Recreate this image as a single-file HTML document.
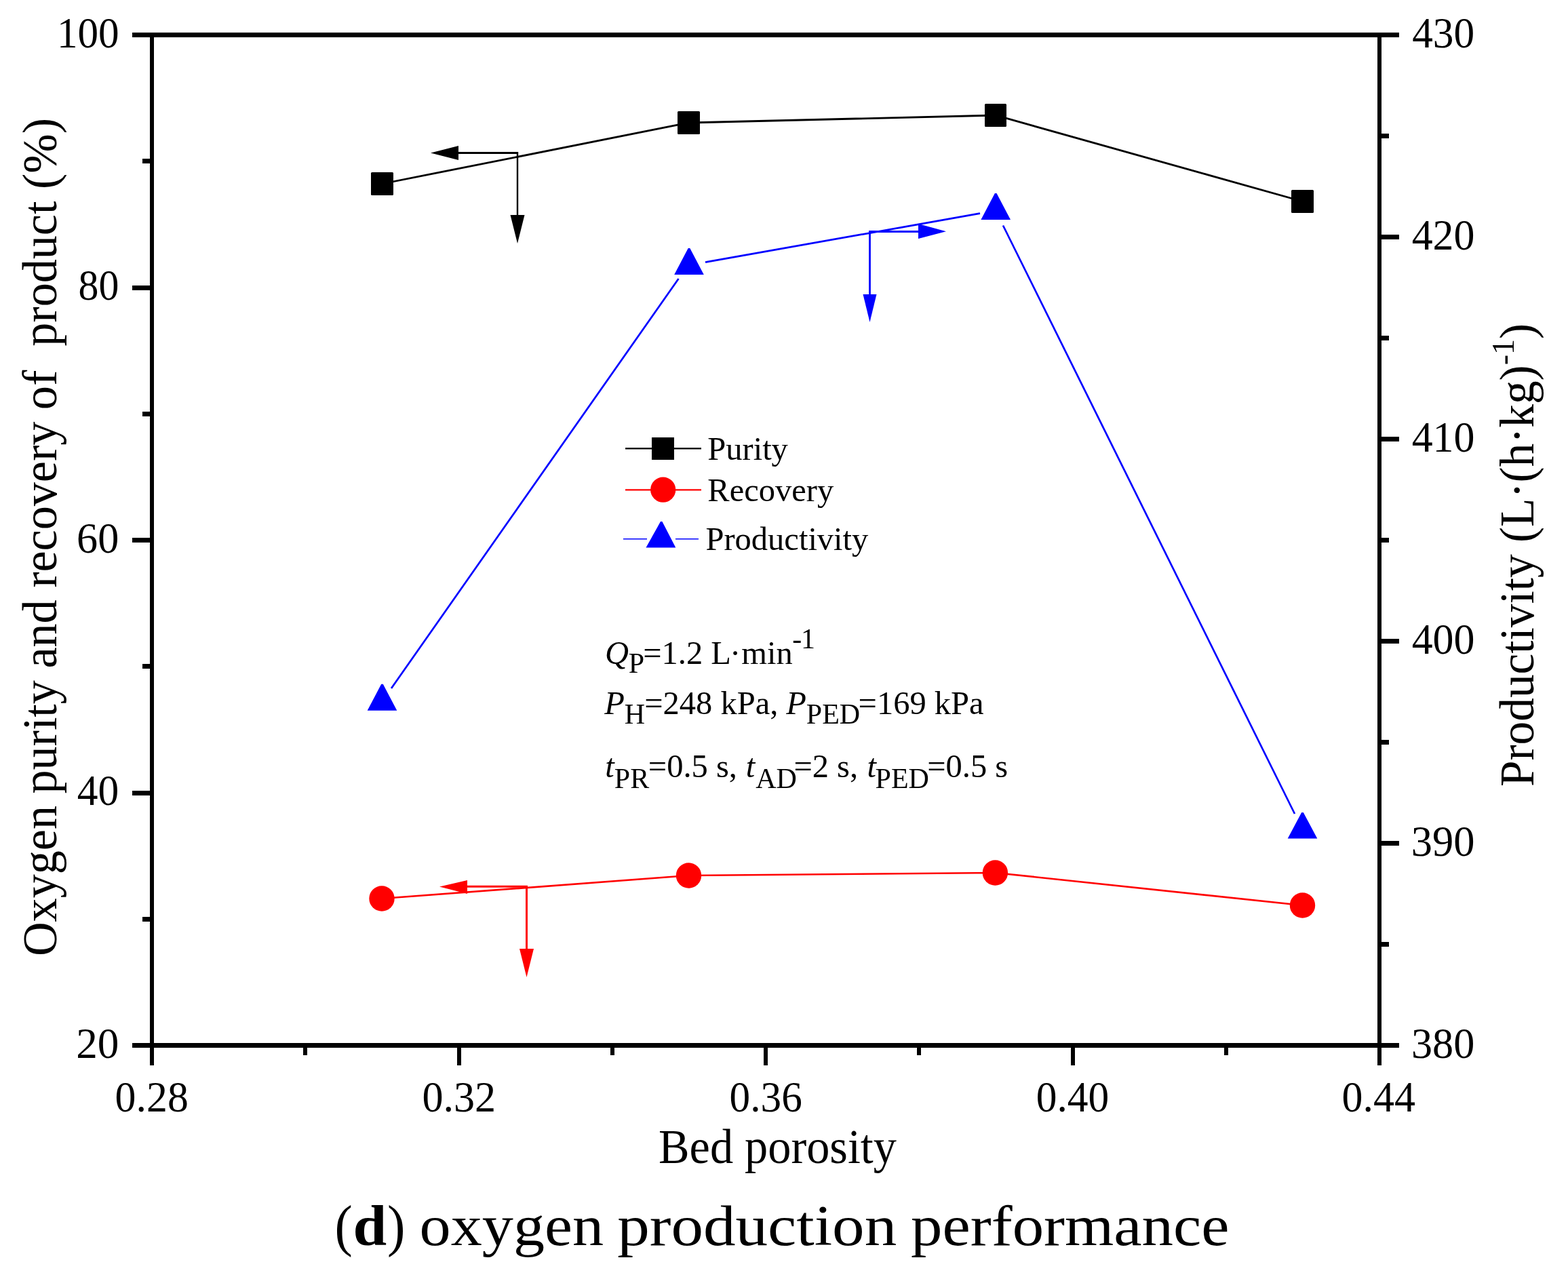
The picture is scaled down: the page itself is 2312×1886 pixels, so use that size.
<!DOCTYPE html>
<html><head><meta charset="utf-8"><title>Oxygen production performance</title>
<style>
html,body{margin:0;padding:0;background:#fff;}
svg{display:block;}
text{font-family:"Liberation Serif","Times New Roman",serif;fill:#000;}
.tl{font-size:64px;}
.it{font-style:italic;}
</style></head>
<body>
<svg width="2312" height="1886" viewBox="0 0 2312 1886">
<rect x="0" y="0" width="2312" height="1886" fill="#fff"/>
<!-- frame -->
<g fill="#000" shape-rendering="crispEdges">
<rect x="221" y="48" width="6" height="1497"/>
<rect x="2031" y="48" width="6" height="1497"/>
<rect x="195" y="48" width="1868" height="7"/>
<rect x="195" y="1538" width="1868" height="7"/>
<!-- left major ticks -->
<rect x="195" y="421" width="26" height="7"/>
<rect x="195" y="793" width="26" height="7"/>
<rect x="195" y="1166" width="26" height="7"/>
<!-- left minor ticks -->
<rect x="210" y="234" width="11" height="7"/>
<rect x="210" y="607" width="11" height="7"/>
<rect x="210" y="979" width="11" height="7"/>
<rect x="210" y="1352" width="11" height="7"/>
<!-- right major ticks -->
<rect x="2037" y="346" width="26" height="7"/>
<rect x="2037" y="644" width="26" height="7"/>
<rect x="2037" y="942" width="26" height="7"/>
<rect x="2037" y="1240" width="26" height="7"/>
<!-- right minor ticks -->
<rect x="2037" y="197" width="11" height="7"/>
<rect x="2037" y="495" width="11" height="7"/>
<rect x="2037" y="793" width="11" height="7"/>
<rect x="2037" y="1091" width="11" height="7"/>
<rect x="2037" y="1389" width="11" height="7"/>
<!-- bottom major ticks -->
<rect x="221" y="1545" width="6" height="26"/>
<rect x="674" y="1545" width="6" height="26"/>
<rect x="1126" y="1545" width="6" height="26"/>
<rect x="1579" y="1545" width="6" height="26"/>
<rect x="2031" y="1545" width="6" height="26"/>
<!-- bottom minor ticks -->
<rect x="447" y="1545" width="6" height="11"/>
<rect x="900" y="1545" width="6" height="11"/>
<rect x="1352" y="1545" width="6" height="11"/>
<rect x="1805" y="1545" width="6" height="11"/>
</g>

<!-- tick labels -->
<g class="tl">
<text x="83.9" y="69.7" textLength="91.8" lengthAdjust="spacingAndGlyphs">100</text>
<text x="115.5" y="442.2" textLength="59.8" lengthAdjust="spacingAndGlyphs">80</text>
<text x="113.1" y="814.7" textLength="62.2" lengthAdjust="spacingAndGlyphs">60</text>
<text x="113.8" y="1187.2" textLength="61.5" lengthAdjust="spacingAndGlyphs">40</text>
<text x="112.2" y="1559.7" textLength="63.2" lengthAdjust="spacingAndGlyphs">20</text>
<text x="2082.2" y="69.7" textLength="92.0" lengthAdjust="spacingAndGlyphs">430</text>
<text x="2081.7" y="367.7" textLength="92.8" lengthAdjust="spacingAndGlyphs">420</text>
<text x="2081.7" y="665.7" textLength="92.8" lengthAdjust="spacingAndGlyphs">410</text>
<text x="2081.7" y="963.7" textLength="92.8" lengthAdjust="spacingAndGlyphs">400</text>
<text x="2080.8" y="1261.7" textLength="93.7" lengthAdjust="spacingAndGlyphs">390</text>
<text x="2081.0" y="1559.7" textLength="93.3" lengthAdjust="spacingAndGlyphs">380</text>
<text x="169.6" y="1638.7" textLength="108.2" lengthAdjust="spacingAndGlyphs">0.28</text>
<text x="622.4" y="1638.7" textLength="108.8" lengthAdjust="spacingAndGlyphs">0.32</text>
<text x="1075.6" y="1638.7" textLength="107.2" lengthAdjust="spacingAndGlyphs">0.36</text>
<text x="1527.8" y="1638.7" textLength="107.5" lengthAdjust="spacingAndGlyphs">0.40</text>
<text x="1978.6" y="1638.7" textLength="108.3" lengthAdjust="spacingAndGlyphs">0.44</text>
</g>

<!-- axis titles -->
<text x="971" y="1715" font-size="72" textLength="351" lengthAdjust="spacingAndGlyphs">Bed porosity</text>
<text transform="translate(83,1410) rotate(-90)" font-size="72" xml:space="preserve" textLength="1236" lengthAdjust="spacingAndGlyphs">Oxygen purity and recovery of  product (%)</text>
<text transform="translate(2261,1160) rotate(-90)" font-size="71" textLength="683" lengthAdjust="spacingAndGlyphs">Productivity (L·(h·kg)<tspan font-size="47" dy="-29">-1</tspan><tspan dy="29">)</tspan></text>

<!-- caption -->
<g font-size="85">
<text x="493.4" y="1835.6" textLength="26.3" lengthAdjust="spacingAndGlyphs">(</text>
<text x="520.4" y="1835.6" font-weight="bold" textLength="49.7" lengthAdjust="spacingAndGlyphs">d</text>
<text x="571" y="1835.6" textLength="26.5" lengthAdjust="spacingAndGlyphs">)</text>
<text x="618.6" y="1835.6" textLength="271.6" lengthAdjust="spacingAndGlyphs">oxygen</text>
<text x="910.2" y="1835.6" textLength="412" lengthAdjust="spacingAndGlyphs">production</text>
<text x="1343.1" y="1835.6" textLength="469.4" lengthAdjust="spacingAndGlyphs">performance</text>
</g>

<!-- purity (black) -->
<polyline points="563.5,271 1015.5,181 1468,170 1920.5,297" fill="none" stroke="#000" stroke-width="2.8"/>
<g fill="#000">
<rect x="547" y="254" width="33" height="34" rx="1.5"/>
<rect x="999" y="164" width="33" height="34" rx="1.5"/>
<rect x="1452" y="153" width="32" height="34" rx="1.5"/>
<rect x="1904" y="280" width="33" height="34" rx="1.5"/>
</g>

<!-- recovery (red) -->
<polyline points="563,1325 1015.5,1291 1467.4,1287 1920.5,1335" fill="none" stroke="#f00" stroke-width="2.7"/>
<g fill="#f00">
<circle cx="563" cy="1325" r="18.7"/>
<circle cx="1015.5" cy="1291" r="18.7"/>
<circle cx="1467.4" cy="1287" r="18.7"/>
<circle cx="1920.5" cy="1335" r="18.7"/>
</g>

<!-- productivity (blue) -->
<g stroke="#00f" stroke-width="2.7" fill="none">
<line x1="577" y1="1015" x2="1000.5" y2="411"/>
<line x1="1040" y1="386.7" x2="1445" y2="314.6"/>
<line x1="1479" y1="332.5" x2="1909" y2="1200"/>
</g>
<g fill="#00f">
<polygon points="562.2,1008.8 564.8,1008.8 585.3,1047.8 541.7,1047.8"/>
<polygon points="1014.7,366.0 1017.3,366.0 1037.8,405.0 994.2,405.0"/>
<polygon points="1466.9,285.0 1469.5,285.0 1490.0,324.0 1446.4,324.0"/>
<polygon points="1919.2,1198.0 1921.8,1198.0 1942.3,1236.5 1898.7,1236.5"/>
</g>

<!-- arrows -->
<g fill="none">
<line x1="676" y1="225.5" x2="764" y2="225.5" stroke="#000" stroke-width="3"/>
<line x1="763" y1="224" x2="763" y2="318" stroke="#000" stroke-width="2.4"/>
<line x1="1354" y1="341.5" x2="1281.5" y2="341.5" stroke="#00f" stroke-width="3"/>
<line x1="1282.5" y1="340" x2="1282.5" y2="435" stroke="#00f" stroke-width="2.8"/>
<line x1="689" y1="1307.3" x2="778" y2="1307.3" stroke="#f00" stroke-width="3"/>
<line x1="776.5" y1="1306" x2="776.5" y2="1400" stroke="#f00" stroke-width="3"/>
</g>
<polygon points="635,225.5 676,215 676,236" fill="#000"/>
<polygon points="752.5,317 773.5,317 763,359" fill="#000"/>
<polygon points="1354,330 1354,352 1395,341.3" fill="#00f"/>
<polygon points="1272.5,434 1292.5,434 1282.5,475" fill="#00f"/>
<polygon points="648,1307.5 689,1298 689,1318" fill="#f00"/>
<polygon points="766,1399 787,1399 776.5,1441" fill="#f00"/>

<!-- legend -->
<line x1="922" y1="661.4" x2="1034" y2="661.4" stroke="#000" stroke-width="2.2"/>
<rect x="961" y="645" width="33" height="33" fill="#000"/>
<line x1="922" y1="722.4" x2="1034" y2="722.4" stroke="#f00" stroke-width="2.2"/>
<circle cx="977.7" cy="722.2" r="18.6" fill="#f00"/>
<line x1="919" y1="794.8" x2="954" y2="794.8" stroke="#00f" stroke-width="1.6"/>
<line x1="996" y1="794.8" x2="1030" y2="794.8" stroke="#00f" stroke-width="1.6"/>
<polygon points="974,768.9 976.4,768.9 996.3,807.6 952.5,807.6" fill="#00f"/>
<text x="1043.3" y="677.9" font-size="48.5">Purity</text>
<text x="1043.3" y="738.8" font-size="48.5">Recovery</text>
<text x="1040.5" y="810.8" font-size="48.5">Productivity</text>

<!-- annotation -->
<g font-size="48.5">
<text><tspan class="it" x="892" y="978.9">Q</tspan><tspan font-size="42" x="926.8" y="991.6">P</tspan><tspan x="948.2" y="978.9">=1.2 L</tspan><tspan x="1075.9" y="978.9">·</tspan><tspan x="1093.2" y="978.9">min</tspan><tspan font-size="42" x="1168.2" y="956.4">-</tspan><tspan font-size="42" x="1180.9" y="956.4">1</tspan></text>
<text><tspan class="it" x="891.3" y="1052.8">P</tspan><tspan font-size="42" x="920.8" y="1067">H</tspan><tspan x="950.2" y="1052.8">=248 kPa, </tspan><tspan class="it" x="1159.3" y="1052.8">P</tspan><tspan font-size="42" x="1188.8" y="1067">PED</tspan><tspan x="1265.6" y="1052.8">=169 kPa</tspan></text>
<text><tspan class="it" x="892.2" y="1145.8">t</tspan><tspan font-size="42" x="905.8" y="1162">PR</tspan><tspan x="955.8" y="1145.8">=0.5 s, </tspan><tspan class="it" x="1099.7" y="1145.8">t</tspan><tspan font-size="42" x="1114.2" y="1162">AD</tspan><tspan x="1170.4" y="1145.8">=2 s, </tspan><tspan class="it" x="1278.5" y="1145.8">t</tspan><tspan font-size="42" x="1290.6" y="1162">PED</tspan><tspan x="1367.2" y="1145.8">=0.5 s</tspan></text>
</g>
</svg>
</body></html>
